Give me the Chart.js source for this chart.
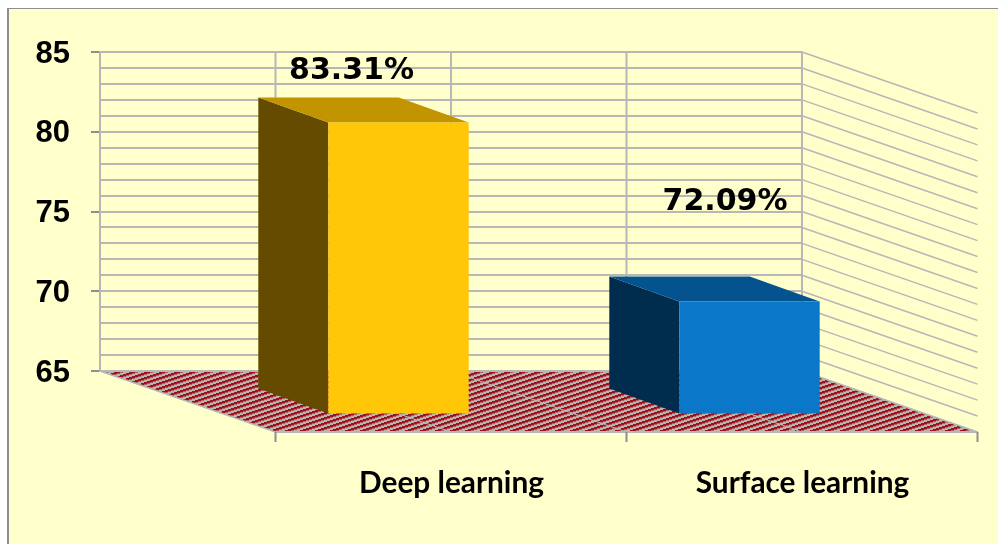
<!DOCTYPE html>
<html>
<head>
<meta charset="utf-8">
<style>
    html, body { margin: 0; padding: 0; background: #fff; }
    canvas { display: block; }
</style>
<script src="https://cdn.jsdelivr.net/npm/chart.js@4/dist/chart.umd.min.js"></script>
</head>
<body>
<canvas id="learningChart" width="998" height="544"></canvas>
<script>
// values
const categories = ['Deep learning', 'Surface learning'];
const learningValues = [83.31, 72.09];
const axisMin = 65;
const axisMax = 85;
const axisStep = 1;
const labelEvery = 5;

const frontColors = ['#FFC708', '#0A77C8'];
const sideColors = ['#654B00', '#002D4E'];
const topColors = ['#C29500', '#04538F'];

const gridColor = '#B7B7B7';
const tickColor = '#8E8E8E';
const panelColor = '#FFFFCC';

// fake 3d depth: how far the floor runs from the back wall, and where the bars sit on it
const floorDepth = { x: 175.5, y: 61 };
const barBack = { x: 53, y: 18.5 };
const barFront = { x: 123, y: 43.5 };
// the value labels were placed by hand in the original
const valueLabelShift = [{ x: 76, y: -8 }, { x: 98.5, y: -56 }];

// small repeating tile for the hatched floor
function makeFloorPattern(ctx) {
    const tile = document.createElement('canvas');
    tile.width = 15;
    tile.height = 5;
    const t = tile.getContext('2d');
    t.fillStyle = '#B9B5AE';
    t.fillRect(0, 0, 15, 5);
    t.fillStyle = '#A0101C';
    for (let x = 0; x < 15; x++) {
        const row = (5 - Math.floor(x / 3)) % 5;
        t.fillRect(x, row, 1, 1);
        t.fillRect(x, (row + 1) % 5, 1, 1);
        t.globalAlpha = 0.5;
        t.fillRect(x, (row + 2) % 5, 1, 1);
        t.globalAlpha = 1;
    }
    return ctx.createPattern(tile, 'repeat');
}

function fillPoly(ctx, color, points) {
    ctx.fillStyle = color;
    ctx.beginPath();
    points.forEach((p, i) => i ? ctx.lineTo(p[0], p[1]) : ctx.moveTo(p[0], p[1]));
    ctx.closePath();
    ctx.fill();
}

function strokeLine(ctx, color, width, x1, y1, x2, y2) {
    ctx.strokeStyle = color;
    ctx.lineWidth = width;
    ctx.beginPath();
    ctx.moveTo(x1, y1);
    ctx.lineTo(x2, y2);
    ctx.stroke();
}

const panelPlugin = {
    id: 'panel',
    beforeDraw(chart) {
        const ctx = chart.ctx;
        ctx.save();
        ctx.fillStyle = '#FFFFFF';
        ctx.fillRect(0, 0, chart.width, chart.height);
        ctx.fillStyle = tickColor;
        ctx.fillRect(7, 8, chart.width - 7, chart.height - 8);
        ctx.fillStyle = panelColor;
        ctx.fillRect(9, 9, chart.width - 9, chart.height - 9);
        ctx.restore();
    }
};

const wallsPlugin = {
    id: 'walls',
    beforeDatasetsDraw(chart) {
        const ctx = chart.ctx;
        const area = chart.chartArea;
        const yScale = chart.scales.y;
        const xScale = chart.scales.x;
        const halfCategory = (xScale.getPixelForTick(1) - xScale.getPixelForTick(0)) / 2;
        const wallLines = [area.left, area.left + halfCategory, area.left + 2 * halfCategory,
            area.left + 3 * halfCategory, area.right];
        ctx.save();

        // floor
        fillPoly(ctx, makeFloorPattern(ctx), [
            [area.left, area.bottom],
            [area.right, area.bottom],
            [area.right + floorDepth.x, area.bottom + floorDepth.y],
            [area.left + floorDepth.x, area.bottom + floorDepth.y]
        ]);
        wallLines.slice(1).forEach(x => {
            strokeLine(ctx, gridColor, 1, x, area.bottom, x + floorDepth.x, area.bottom + floorDepth.y);
        });
        strokeLine(ctx, gridColor, 1.5, area.left, area.bottom, area.left + floorDepth.x, area.bottom + floorDepth.y);
        strokeLine(ctx, gridColor, 2, area.left + floorDepth.x, area.bottom + floorDepth.y,
            area.right + floorDepth.x, area.bottom + floorDepth.y);
        strokeLine(ctx, gridColor, 2, area.left, area.bottom, area.right, area.bottom);

        // upright lines of the back wall
        wallLines.slice(1).forEach(x => {
            strokeLine(ctx, gridColor, 2, x, area.top, x, area.bottom);
        });

        // slanted lines of the side wall
        yScale.ticks.forEach(tick => {
            const y = yScale.getPixelForValue(tick.value);
            strokeLine(ctx, gridColor, 1.5, area.right, y, area.right + floorDepth.x, y + floorDepth.y);
        });

        // tick marks under the front edge of the floor
        [area.left + floorDepth.x, area.left + floorDepth.x + 2 * halfCategory, area.right + floorDepth.x].forEach(x => {
            strokeLine(ctx, tickColor, 2, x, area.bottom + floorDepth.y, x, area.bottom + floorDepth.y + 10);
        });
        ctx.restore();
    }
};

// the library's own bars become the front faces, the side and top are added behind them
const boxPlugin = {
    id: 'box',
    beforeDatasetDraw(chart, args) {
        const ctx = chart.ctx;
        args.meta.data.forEach((bar, i) => {
            const left = bar.x - bar.width / 2;
            const right = bar.x + bar.width / 2;
            fillPoly(ctx, sideColors[i], [
                [left + barBack.x, bar.y + barBack.y],
                [left + barFront.x, bar.y + barFront.y],
                [left + barFront.x, bar.base + barFront.y],
                [left + barBack.x, bar.base + barBack.y]
            ]);
            fillPoly(ctx, topColors[i], [
                [left + barBack.x, bar.y + barBack.y],
                [right + barBack.x, bar.y + barBack.y],
                [right + barFront.x, bar.y + barFront.y],
                [left + barFront.x, bar.y + barFront.y]
            ]);
        });
        ctx.save();
        ctx.translate(barFront.x, barFront.y);
    },
    afterDatasetDraw(chart) {
        chart.ctx.restore();
    },
    afterDatasetsDraw(chart) {
        const ctx = chart.ctx;
        ctx.save();
        ctx.fillStyle = '#000';
        ctx.font = 'bold 30px "DejaVu Sans"';
        ctx.textAlign = 'center';
        ctx.textBaseline = 'middle';
        chart.getDatasetMeta(0).data.forEach((bar, i) => {
            ctx.fillText(learningValues[i].toFixed(2) + '%', bar.x + valueLabelShift[i].x, bar.y + valueLabelShift[i].y);
        });
        ctx.restore();
    }
};

const chartCanvas = document.getElementById('learningChart').getContext('2d');
const learningChart = new Chart(chartCanvas, {
    type: 'bar',
    data: {
        labels: categories,
        datasets: [{
            data: learningValues,
            base: axisMin,
            clip: false,
            backgroundColor: frontColors,
            barPercentage: 0.4,
            categoryPercentage: 1
        }]
    },
    options: {
        responsive: false,
        animation: false,
        layout: { padding: { top: 52, right: 196, left: 0, bottom: 0 } },
        plugins: {
            legend: { display: false },
            title: { display: false },
            tooltip: { enabled: false }
        },
        scales: {
            x: {
                grid: { display: false, drawTicks: false },
                border: { display: false },
                ticks: {
                    autoSkip: false,
                    maxRotation: 0,
                    padding: 95,
                    labelOffset: 176,
                    color: '#000',
                    font: { family: 'Lato', weight: 'bold', size: 29.8 }
                },
                afterFit(scale) {
                    scale.height = 173;
                }
            },
            y: {
                min: axisMin,
                max: axisMax,
                grid: {
                    color: gridColor,
                    lineWidth: 2,
                    tickLength: 9,
                    tickColor: ctx => (ctx.tick.value % labelEvery === 0 ? tickColor : 'rgba(0,0,0,0)')
                },
                border: { color: gridColor, width: 2 },
                ticks: {
                    stepSize: axisStep,
                    autoSkip: false,
                    maxTicksLimit: 21,
                    padding: 21,
                    labelOffset: 2,
                    color: '#000',
                    font: { family: '"Liberation Sans"', weight: 'bold', size: 31 },
                    callback: value => (value % labelEvery === 0 ? value : '')
                },
                afterFit(scale) {
                    scale.width = 100;
                }
            }
        }
    },
    plugins: [panelPlugin, wallsPlugin, boxPlugin]
});
</script>
</body>
</html>
